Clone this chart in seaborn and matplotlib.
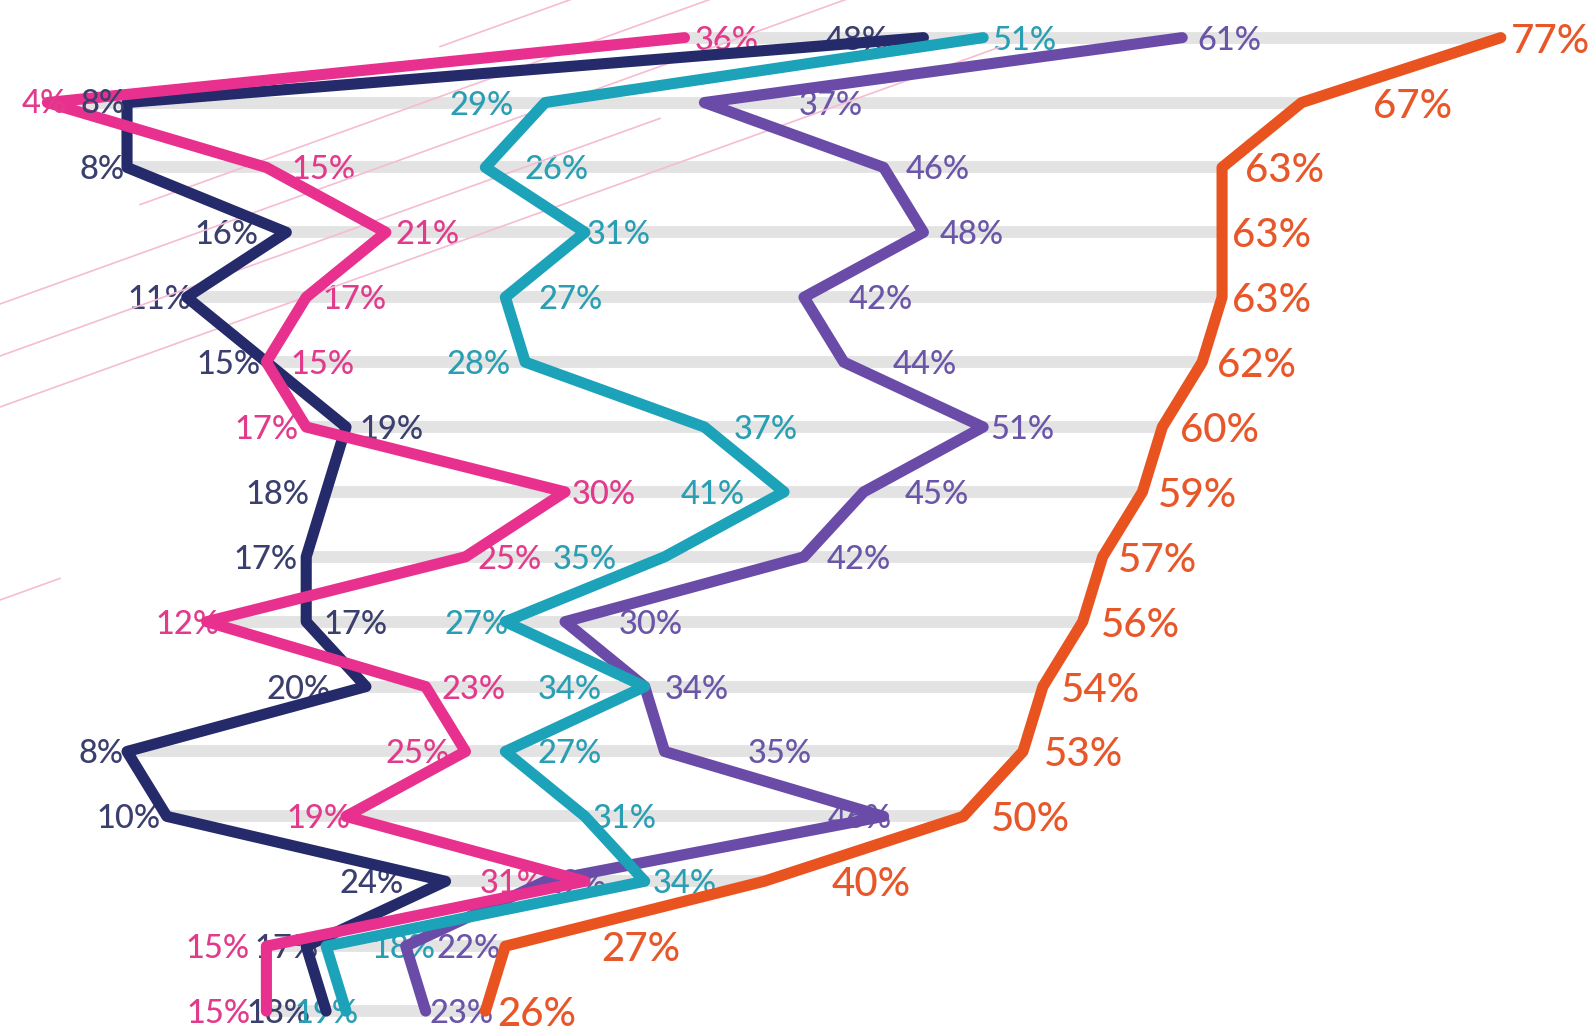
import pandas as pd
import seaborn as sns
import matplotlib.pyplot as plt
import numpy as np

# rows run top -> bottom, values are percentages
rows = list(range(16))
series_names = ['orange', 'purple', 'navy', 'pink', 'teal']

orange = [77, 67, 63, 63, 63, 62, 60, 59, 57, 56, 54, 53, 50, 40, 27, 26]
purple = [61, 37, 46, 48, 42, 44, 51, 45, 42, 30, 34, 35, 46, 29, 22, 23]
teal = [51, 29, 26, 31, 27, 28, 37, 41, 35, 27, 34, 27, 31, 34, 18, 19]
navy = [48, 8, 8, 16, 11, 15, 19, 18, 17, 17, 20, 8, 10, 24, 17, 18]
pink = [36, 4, 15, 21, 17, 15, 17, 30, 25, 12, 23, 25, 19, 31, 15, 15]

values = {'orange': orange, 'purple': purple, 'navy': navy, 'pink': pink, 'teal': teal}

# styling
line_colors = {'orange': '#e8531f', 'purple': '#6b4ba8', 'navy': '#252a6a',
               'pink': '#e8318e', 'teal': '#1ca3b9'}
text_colors = {'orange': '#e8572a', 'purple': '#6a55a8', 'navy': '#3a3f6e',
               'pink': '#e23b8c', 'teal': '#2a9fb3'}
# horizontal offset (px) of each label centre from its point
label_dx = {
    'orange': [49, 109, 62, 49, 49, 54, 56, 54, 54, 57, 57, 60, 66, 106, 134, 51],
    'purple': [46, 125, 53, 48, 76, 80, 39, 72, 54, 85, 51, 114, -24, 29, 62, 35],
    'teal': [41, -63, 70, 33, 64, -46, 61, -70, -79, -28, -74, 63, 39, 40, 76, -19],
    'navy': [-66, -24, -25, -59, -27, -37, 45, -48, -40, 49, -66, -26, -38, -73, -19, -47],
    'pink': [42, -3, 56, 41, 48, 55, -39, 38, 44, -19, 47, -47, -27, -72, -48, -47],
}
# labels that sit on top of the lines in the original
labels_on_top = {('navy', 1), ('pink', 1)}

df = pd.DataFrame([(s, r, v) for s in series_names for r, v in zip(rows, values[s])],
                  columns=['series', 'row', 'pct'])

fig = plt.figure(figsize=(15.9, 10.26), dpi=100)
ax = fig.add_axes([0, 0, 1, 1])

# faint pink hatching in the background (decoration only)
for c, x0, x1 in [(205, 440, 590), (255, 140, 720), (304, 0, 880),
                  (356, 0, 660), (407, 0, 1000), (600, 0, 60)]:
    xs = np.array([x0, x1])
    ys = c - 0.36 * xs
    ax.plot(xs / 1590, 1 - ys / 1026, transform=fig.transFigure,
            color='#f6bcd2', lw=1.2, zorder=0.5)

# grey track from the row min to the row max
span = df.groupby('row')['pct'].agg(['min', 'max'])
ax.hlines(span.index, span['min'], span['max'], color='#e3e3e3', lw=8.5, zorder=1)

sns.lineplot(data=df, x='pct', y='row', hue='series', hue_order=series_names,
             palette=line_colors, orient='y', sort=False, estimator=None,
             linewidth=8, legend=False, ax=ax,
             solid_capstyle='round', solid_joinstyle='round', zorder=3)
for ln in ax.get_lines():
    ln.set_zorder(3)

for s in series_names:
    size = 29 if s == 'orange' else 23.5
    for r, v, dx in zip(rows, values[s], label_dx[s]):
        z = 4 if (s, r) in labels_on_top else 2
        ax.annotate(f'{v}%', (v, r), xytext=(dx * 1.014, 2 if z == 4 else 0),
                    textcoords='offset pixels',
                    ha='center', va='center_baseline', fontsize=size, fontweight=500,
                    color=text_colors[s], family=['Lato', 'DejaVu Sans'], zorder=z)

ax.set_xlim(1.62, 81.48)
ax.set_ylim(15.23, -0.58)
ax.axis('off')

fig.savefig('out.png', dpi=100)
